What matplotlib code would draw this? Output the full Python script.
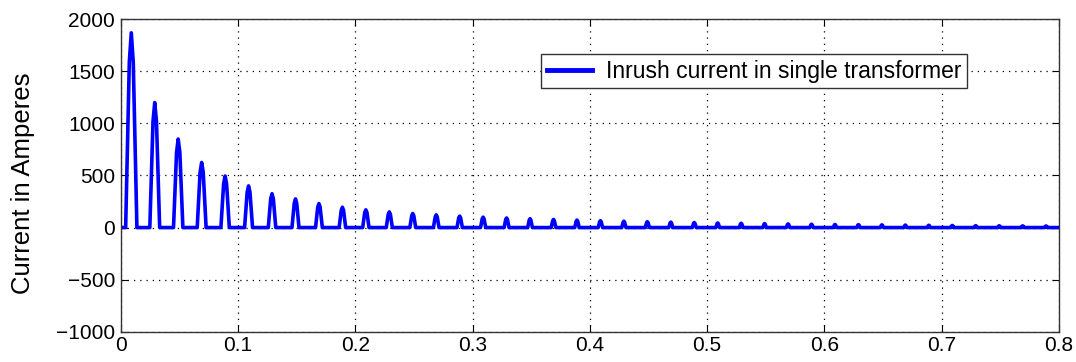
import matplotlib
matplotlib.use('Agg')
import matplotlib.pyplot as plt
import numpy as np

plt.rcParams['font.family'] = ['Liberation Sans', 'DejaVu Sans']

# pulse peak times (s), approx one per 50 Hz cycle
peak_times = [0.009, 0.029, 0.049, 0.069, 0.089, 0.109, 0.129, 0.149, 0.169, 0.189,
              0.209, 0.229, 0.249, 0.269, 0.289, 0.309, 0.329, 0.349, 0.369, 0.389,
              0.409, 0.429, 0.449, 0.469, 0.489, 0.509, 0.529, 0.549, 0.569, 0.589,
              0.609, 0.629, 0.649, 0.669, 0.689, 0.709, 0.729, 0.749, 0.769, 0.789]
# peak current (A)
peak_amps = [1870, 1200, 850, 625, 495, 400, 325, 275, 230, 195,
             170, 150, 135, 122, 110, 100, 92, 85, 78, 72,
             66, 61, 56, 52, 48, 44, 41, 38, 35, 32,
             30, 28, 26, 24, 22, 20, 18, 17, 16, 15]
# pulse half widths (s)
half_widths = [0.0048, 0.0042, 0.0040, 0.0038, 0.0036, 0.0034, 0.0032, 0.0030, 0.0029, 0.0028,
               0.0027, 0.0026, 0.0025, 0.0024, 0.0023, 0.0022, 0.0021, 0.0020, 0.0020, 0.0019,
               0.0019, 0.0018, 0.0018, 0.0017, 0.0017, 0.0016, 0.0016, 0.0015, 0.0015, 0.0015,
               0.0014, 0.0014, 0.0014, 0.0013, 0.0013, 0.0013, 0.0012, 0.0012, 0.0012, 0.0012]

t_end = 0.8

# build the polyline: flat zero between pulses, rounded cap at each peak
t = [0.0]
i = [0.0]
for tp, a, hw in zip(peak_times, peak_amps, half_widths):
    t += [tp - hw, tp - 0.35 * hw, tp, tp + 0.35 * hw, tp + hw]
    i += [0.0, 0.85 * a, a, 0.85 * a, 0.0]
t.append(t_end)
i.append(0.0)

fig = plt.figure(figsize=(10.76, 3.62), dpi=100)
ax = fig.add_axes([0.1122, 0.0837, 0.872, 0.863])

ax.plot(t, i, color='#0000ff', linewidth=2.6, label='Inrush current in single transformer')

ax.set_xlim(0, 0.8)
ax.set_ylim(-1000, 2000)
ax.set_xticks([0, 0.1, 0.2, 0.3, 0.4, 0.5, 0.6, 0.7, 0.8])
ax.set_xticklabels(['0', '0.1', '0.2', '0.3', '0.4', '0.5', '0.6', '0.7', '0.8'])
ax.set_yticks([-1000, -500, 0, 500, 1000, 1500, 2000])
ax.set_yticklabels(['\u22121000', '\u2212500', '0', '500', '1000', '1500', '2000'])
ax.tick_params(direction='in', top=True, right=True, length=5, labelsize=15)
ax.tick_params(axis='y', pad=4)
ax.tick_params(axis='x', pad=3)
ax.grid(True, color='black', linestyle=(0, (1, 4)), linewidth=0.9)
for s in ax.spines.values():
    s.set_linewidth(1.0)
    s.set_color('#333333')

ax.set_ylabel('Current in Amperes', fontsize=18.5)
ax.yaxis.set_label_coords(-0.091, 0.475)

leg = ax.legend(loc='center', bbox_to_anchor=(0.675, 0.834), fontsize=16.5,
                fancybox=False, framealpha=1, edgecolor='#333333',
                handlelength=2.0, borderpad=0.25, handletextpad=0.6)
leg.get_frame().set_linewidth(1.0)
for ln in leg.get_lines():
    ln.set_linewidth(3.5)

fig.savefig('out.png', dpi=100)
